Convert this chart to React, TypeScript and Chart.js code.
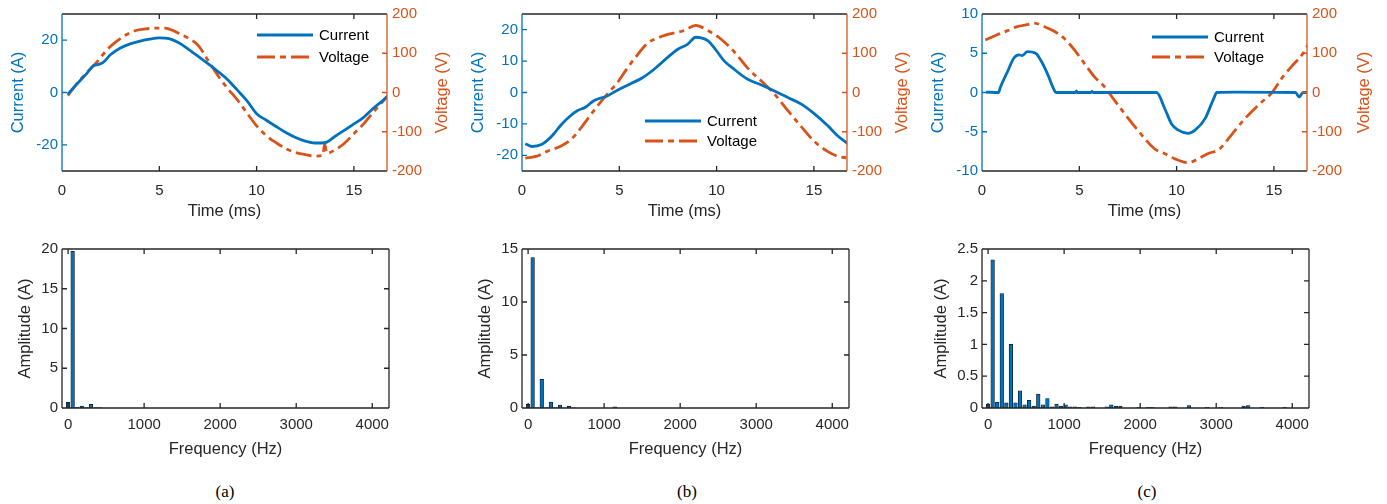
import React, { useEffect, useRef } from 'react';
import { Chart, registerables } from 'chart.js';

Chart.register(...registerables);

const BLUE = '#0072BD';
const ORANGE = '#D95319';
const AXIS = '#262626';
const FONT = "'Liberation Sans', Arial, Helvetica, sans-serif";

// ---------- Tick labels ----------
const TIME_TICKS = [0, 5, 10, 15];
const FREQ_TICKS = [0, 1000, 2000, 3000, 4000];
const VOLT_TICKS = [-200, -100, 0, 100, 200];
const CUR_TICKS_A = [-20, 0, 20];
const CUR_TICKS_B = [-20, -10, 0, 10, 20];
const CUR_TICKS_C = [-10, -5, 0, 5, 10];
const AMP_TICKS_A = [0, 5, 10, 15, 20];
const AMP_TICKS_B = [0, 5, 10, 15];
const AMP_TICKS_C = [0, 0.5, 1, 1.5, 2, 2.5];

// ---------- (a) waveforms ----------
const CUR_T_A = [0.3, 0.8, 1.3, 1.6, 1.8, 2.1, 2.5, 3.0, 3.5, 4.0, 4.5, 5.0, 5.5, 6.0, 6.5, 7.0, 7.5, 8.0, 8.5, 9.0, 9.5, 10.0, 10.5, 11.0, 11.5, 12.0, 12.5, 13.0, 13.5, 14.0, 14.5, 15.0, 15.5, 16.0, 16.5, 16.75];
const CUR_A = [-0.6, 3.5, 7.5, 10.2, 10.6, 11.4, 14.5, 17.0, 18.6, 19.6, 20.4, 20.9, 20.6, 19.0, 16.5, 13.8, 11.0, 8.1, 5.0, 1.0, -3.1, -8.1, -10.6, -13.0, -15.3, -17.2, -18.6, -19.3, -19.2, -16.9, -14.5, -12.0, -9.5, -6.0, -3.0, -1.2];
const VOLT_T_A = [0.3, 0.8, 1.3, 1.8, 2.3, 2.8, 3.3, 3.8, 4.3, 4.8, 5.3, 5.7, 6.1, 6.5, 7.0, 7.5, 8.0, 8.5, 9.0, 9.5, 10.0, 10.5, 11.0, 11.5, 12.0, 12.5, 13.0, 13.4, 13.5, 13.6, 14.0, 14.5, 15.0, 15.5, 16.0, 16.5, 16.75];
const VOLT_A = [-8, 25, 52, 78, 108, 130, 147, 158, 162, 164, 164, 158, 148, 138, 120, 82, 44, 11, -18, -52, -85, -110, -128, -143, -153, -158, -162, -160, -130, -155, -147, -130, -105, -80, -50, -22, -8];

// ---------- (b) waveforms ----------
const CUR_T_B = [0.17, 0.52, 1.03, 1.29, 1.63, 1.98, 2.49, 2.84, 3.26, 3.69, 4.38, 4.9, 5.58, 6.19, 6.79, 7.47, 7.99, 8.5, 8.93, 9.54, 9.88, 10.4, 10.9, 11.6, 12.3, 12.97, 13.66, 14.35, 15.03, 15.7, 16.2, 16.75];
const CUR_B = [-16.3, -17.2, -16.5, -15.3, -13.2, -10.5, -7.4, -5.8, -4.7, -2.6, -1.1, 0.7, 2.8, 4.7, 7.4, 11.1, 13.7, 15.3, 17.6, 16.5, 14.2, 10.0, 7.4, 4.2, 2.4, 0.5, -1.6, -3.7, -6.8, -10.5, -13.7, -16.3];
const VOLT_T_B = [0.17, 0.77, 1.29, 1.98, 2.49, 3.0, 3.69, 4.38, 4.9, 5.41, 5.93, 6.44, 7.13, 7.65, 8.33, 8.93, 9.54, 10.2, 10.9, 11.6, 12.3, 12.97, 13.66, 14.35, 15.03, 15.7, 16.2, 16.75];
const VOLT_B = [-167, -162, -150, -137, -121, -92, -46, -4, 25, 62, 96, 125, 142, 150, 158, 171, 158, 137, 104, 62, 29, -4, -46, -87, -125, -150, -162, -167];

// ---------- (c) waveforms ----------
const CUR_T_C = [0.2, 0.85, 0.95, 1.3, 1.64, 1.9, 2.07, 2.33, 2.76, 3.02, 3.36, 3.71, 3.8, 4.8, 4.85, 4.9, 5.6, 5.65, 5.7, 7.0, 8.97, 9.4, 9.74, 10.09, 10.6, 10.95, 11.47, 11.9, 12.07, 13.0, 16.1, 16.3, 16.5, 16.8];
const CUR_C = [0.05, 0.0, 0.7, 2.6, 4.4, 4.8, 4.7, 5.2, 5.0, 4.1, 2.4, 0.3, 0.0, 0.0, 0.2, 0.0, 0.0, 0.15, 0.0, 0.0, 0.0, -2.1, -4.0, -4.8, -5.2, -4.8, -3.3, -0.8, 0.0, 0.05, 0.0, -0.55, 0.0, 0.0];
const VOLT_T_C = [0.17, 0.78, 1.29, 1.81, 2.33, 2.67, 3.19, 3.71, 4.22, 4.74, 5.26, 5.78, 6.29, 6.81, 7.33, 8.02, 8.88, 9.4, 9.91, 10.6, 11.1, 11.6, 12.2, 12.8, 13.5, 14.2, 14.9, 15.4, 15.9, 16.5, 16.8];
const VOLT_C = [134, 147, 157, 168, 173, 177, 168, 156, 138, 109, 74, 40, 15, -20, -54, -97, -144, -156, -169, -179, -169, -156, -144, -109, -67, -32, 0, 36, 66, 100, 126];

// ---------- spectra ----------
const FREQ_A = [0, 60, 120, 180, 240, 300, 360, 420];
const AMP_A = [0.7, 19.7, 0.1, 0.25, 0.05, 0.45, 0.04, 0.04];
const FREQ_B = [0, 60, 120, 180, 240, 300, 360, 420, 480, 540, 600, 1140];
const AMP_B = [0.35, 14.2, 0.05, 2.7, 0.05, 0.55, 0.03, 0.28, 0.02, 0.15, 0.02, 0.12];
const FREQ_C = [0, 60, 120, 180, 240, 300, 360, 420, 480, 540, 600, 660, 720, 780, 840, 900, 960, 1020, 1080, 1140, 1200, 1320, 1380, 1560, 1620, 1680, 1740, 1980, 2100, 2160, 2400, 2460, 2640, 2880, 3060, 3360, 3420, 3600, 3900];
const AMP_C = [0.06, 2.33, 0.09, 1.8, 0.08, 1.0, 0.08, 0.27, 0.05, 0.12, 0.03, 0.22, 0.05, 0.15, 0.02, 0.06, 0.03, 0.05, 0.02, 0.02, 0.01, 0.02, 0.02, 0.02, 0.05, 0.03, 0.03, 0.01, 0.01, 0.01, 0.02, 0.02, 0.04, 0.01, 0.01, 0.03, 0.04, 0.01, 0.01];

const pts = (xs: number[], ys: number[]) => xs.map((x, i) => ({ x, y: ys[i] }));
const setTicks = (vals: number[]) => (s: any) => {
  s.ticks = vals.map((v) => ({ value: v }));
};

function framePlugin(leftColor: string, rightColor: string, rightScale: string | null) {
  return {
    id: 'frame',
    afterDatasetsDraw(chart: any) {
      const { ctx, chartArea: a, scales } = chart;
      const tl = 5;
      ctx.save();
      ctx.lineWidth = 1.3;
      ctx.lineCap = 'butt';
      ctx.strokeStyle = AXIS;
      ctx.beginPath();
      for (const t of scales.x.ticks) {
        const px = scales.x.getPixelForValue(t.value);
        if (px <= a.left + 1 || px >= a.right - 1) continue;
        ctx.moveTo(px, a.bottom);
        ctx.lineTo(px, a.bottom - tl);
        ctx.moveTo(px, a.top);
        ctx.lineTo(px, a.top + tl);
      }
      ctx.stroke();
      ctx.strokeStyle = leftColor;
      ctx.beginPath();
      for (const t of scales.y.ticks) {
        const py = scales.y.getPixelForValue(t.value);
        if (py <= a.top + 1 || py >= a.bottom - 1) continue;
        ctx.moveTo(a.left, py);
        ctx.lineTo(a.left + tl, py);
        if (!rightScale) {
          ctx.moveTo(a.right, py);
          ctx.lineTo(a.right - tl, py);
        }
      }
      ctx.stroke();
      if (rightScale) {
        ctx.strokeStyle = rightColor;
        ctx.beginPath();
        for (const t of scales[rightScale].ticks) {
          const py = scales[rightScale].getPixelForValue(t.value);
          if (py <= a.top + 1 || py >= a.bottom - 1) continue;
          ctx.moveTo(a.right, py);
          ctx.lineTo(a.right - tl, py);
        }
        ctx.stroke();
      }
      ctx.strokeStyle = AXIS;
      ctx.beginPath();
      ctx.moveTo(a.left, a.top);
      ctx.lineTo(a.right, a.top);
      ctx.moveTo(a.left, a.bottom);
      ctx.lineTo(a.right, a.bottom);
      ctx.stroke();
      ctx.strokeStyle = leftColor;
      ctx.beginPath();
      ctx.moveTo(a.left, a.top);
      ctx.lineTo(a.left, a.bottom);
      ctx.stroke();
      ctx.strokeStyle = rightColor;
      ctx.beginPath();
      ctx.moveTo(a.right, a.top);
      ctx.lineTo(a.right, a.bottom);
      ctx.stroke();
      ctx.restore();
    },
  };
}

// Right-hand axis title, reading bottom-to-top like the left one
function rightTitlePlugin(text: string, offset: number) {
  return {
    id: 'rightTitle',
    afterDraw(chart: any) {
      const { ctx, chartArea: a } = chart;
      ctx.save();
      ctx.translate(a.right + offset, (a.top + a.bottom) / 2);
      ctx.rotate(-Math.PI / 2);
      ctx.fillStyle = ORANGE;
      ctx.font = `16.5px ${FONT}`;
      ctx.textAlign = 'center';
      ctx.textBaseline = 'middle';
      ctx.fillText(text, 0, 0);
      ctx.restore();
    },
  };
}

function legendPlugin(x: number, y: number, gap: number) {
  return {
    id: 'miniLegend',
    afterDraw(chart: any) {
      const { ctx } = chart;
      const len = 56;
      const items = [
        { label: 'Current', color: BLUE, dash: [] as number[] },
        { label: 'Voltage', color: ORANGE, dash: [18, 5, 6, 5] },
      ];
      ctx.save();
      items.forEach((it, i) => {
        const yy = y + i * gap;
        ctx.strokeStyle = it.color;
        ctx.lineWidth = 2.8;
        ctx.setLineDash(it.dash);
        ctx.beginPath();
        ctx.moveTo(x, yy);
        ctx.lineTo(x + len, yy);
        ctx.stroke();
        ctx.setLineDash([]);
        ctx.fillStyle = '#000';
        ctx.font = `15px ${FONT}`;
        ctx.textBaseline = 'middle';
        ctx.textAlign = 'left';
        ctx.fillText(it.label, x + len + 6, yy + 1);
      });
      ctx.restore();
    },
  };
}

const tickFont = { family: FONT, size: 15 };
const titleFont = { family: FONT, size: 16.5 };

function topConfig(p: {
  curT: number[]; cur: number[]; voltT: number[]; volt: number[];
  curMin: number; curMax: number; curTicks: number[];
  rightW: number; rightTitleOffset: number; legend: [number, number, number];
}) {
  return {
    type: 'line',
    data: {
      datasets: [
        {
          data: pts(p.curT, p.cur), yAxisID: 'y', borderColor: BLUE, borderWidth: 2.8,
          pointRadius: 0, cubicInterpolationMode: 'monotone', fill: false,
        },
        {
          data: pts(p.voltT, p.volt), yAxisID: 'y2', borderColor: ORANGE, borderWidth: 2.8,
          borderDash: [16, 5, 5, 5], pointRadius: 0, cubicInterpolationMode: 'monotone', fill: false,
        },
      ],
    },
    options: {
      responsive: false, animation: false, events: [],
      layout: { padding: { top: 12, left: 0, right: 0, bottom: 0 } },
      plugins: { legend: { display: false }, tooltip: { enabled: false } },
      scales: {
        x: {
          type: 'linear', min: 0, max: 16.7, afterBuildTicks: setTicks(TIME_TICKS),
          grid: { display: false, drawTicks: false }, border: { display: false },
          ticks: { color: AXIS, font: tickFont, padding: 11, maxRotation: 0, autoSkip: false, callback: (v: any) => String(v) },
          title: { display: true, text: 'Time (ms)', color: AXIS, font: titleFont, padding: { top: 9, bottom: 9 } },
          afterFit: (s: any) => { s.height = 59; },
        },
        y: {
          type: 'linear', position: 'left', min: p.curMin, max: p.curMax, afterBuildTicks: setTicks(p.curTicks),
          grid: { display: false, drawTicks: false }, border: { display: false },
          ticks: { color: BLUE, font: tickFont, padding: 4, autoSkip: false, callback: (v: any) => String(v) },
          title: { display: true, text: 'Current (A)', color: BLUE, font: titleFont, padding: { top: 9, bottom: 9 } },
          afterFit: (s: any) => { s.width = 62; },
        },
        y2: {
          type: 'linear', position: 'right', min: -200, max: 200, afterBuildTicks: setTicks(VOLT_TICKS),
          grid: { display: false, drawTicks: false }, border: { display: false },
          ticks: { color: ORANGE, font: tickFont, padding: 5, autoSkip: false, callback: (v: any) => String(v) },
          title: { display: false },
          afterFit: (s: any) => { s.width = p.rightW; },
        },
      },
    },
    plugins: [
      framePlugin(BLUE, ORANGE, 'y2'),
      rightTitlePlugin('Voltage (V)', p.rightTitleOffset),
      legendPlugin(p.legend[0], p.legend[1], p.legend[2]),
    ],
  };
}

function bottomConfig(p: { freq: number[]; amp: number[]; max: number; ticks: number[]; rightPad: number; titlePad: number }) {
  return {
    type: 'bar',
    data: {
      datasets: [
        {
          data: pts(p.freq, p.amp), backgroundColor: BLUE, borderColor: '#111',
          borderWidth: 0.7, barThickness: 3.6, borderSkipped: false,
        },
      ],
    },
    options: {
      responsive: false, animation: false, events: [],
      layout: { padding: { top: 19, left: 0, right: p.rightPad, bottom: 0 } },
      plugins: { legend: { display: false }, tooltip: { enabled: false } },
      scales: {
        x: {
          type: 'linear', min: -80, max: 4220, offset: false, afterBuildTicks: setTicks(FREQ_TICKS),
          grid: { display: false, drawTicks: false, offset: false }, border: { display: false },
          ticks: { color: AXIS, font: tickFont, padding: 8, maxRotation: 0, autoSkip: false, callback: (v: any) => String(v) },
          title: { display: true, text: 'Frequency (Hz)', color: AXIS, font: titleFont, padding: { top: 11, bottom: 11 } },
          afterFit: (s: any) => { s.height = 62; },
        },
        y: {
          type: 'linear', position: 'left', min: 0, max: p.max, afterBuildTicks: setTicks(p.ticks),
          grid: { display: false, drawTicks: false }, border: { display: false },
          ticks: { color: AXIS, font: tickFont, padding: 4, autoSkip: false, callback: (v: any) => String(v) },
          title: { display: true, text: 'Amplitude (A)', color: AXIS, font: titleFont, padding: { top: p.titlePad, bottom: p.titlePad } },
          afterFit: (s: any) => { s.width = 62; },
        },
      },
    },
    plugins: [framePlugin(AXIS, AXIS, null)],
  };
}

function Panel({ left, top, width, height, config }: { left: number; top: number; width: number; height: number; config: any }) {
  const ref = useRef<HTMLCanvasElement | null>(null);
  useEffect(() => {
    if (!ref.current) return;
    const chart = new Chart(ref.current, config);
    return () => chart.destroy();
  }, []);
  return (
    <canvas
      ref={ref}
      width={width}
      height={height}
      style={{ position: 'absolute', left, top, width, height }}
    />
  );
}

const captionStyle = (cx: number): React.CSSProperties => ({
  position: 'absolute', left: cx - 30, top: 482, width: 60, textAlign: 'center',
  fontFamily: "'Liberation Serif', 'Times New Roman', serif", fontSize: 17, color: '#000', lineHeight: '20px',
});

export default function App() {
  return (
    <div style={{ position: 'absolute', left: 0, top: 0, width: 1387, height: 504, background: '#fff' }}>
      <Panel left={0} top={0} width={460} height={230} config={topConfig({
        curT: CUR_T_A, cur: CUR_A, voltT: VOLT_T_A, volt: VOLT_A, curMin: -30, curMax: 30, curTicks: CUR_TICKS_A,
        rightW: 73, rightTitleOffset: 55, legend: [257, 35, 22],
      })} />
      <Panel left={460} top={0} width={460} height={230} config={topConfig({
        curT: CUR_T_B, cur: CUR_B, voltT: VOLT_T_B, volt: VOLT_B, curMin: -25, curMax: 25, curTicks: CUR_TICKS_B,
        rightW: 73, rightTitleOffset: 55, legend: [185, 121, 20],
      })} />
      <Panel left={920} top={0} width={467} height={230} config={topConfig({
        curT: CUR_T_C, cur: CUR_C, voltT: VOLT_T_C, volt: VOLT_C, curMin: -10, curMax: 10, curTicks: CUR_TICKS_C,
        rightW: 80, rightTitleOffset: 57, legend: [232, 37, 20],
      })} />
      <Panel left={0} top={230} width={460} height={240} config={bottomConfig({ freq: FREQ_A, amp: AMP_A, max: 20, ticks: AMP_TICKS_A, rightPad: 71, titlePad: 16 })} />
      <Panel left={460} top={230} width={460} height={240} config={bottomConfig({ freq: FREQ_B, amp: AMP_B, max: 15, ticks: AMP_TICKS_B, rightPad: 71, titlePad: 16 })} />
      <Panel left={920} top={230} width={467} height={240} config={bottomConfig({ freq: FREQ_C, amp: AMP_C, max: 2.5, ticks: AMP_TICKS_C, rightPad: 78, titlePad: 12 })} />
      <div style={captionStyle(225)}>(a)</div>
      <div style={captionStyle(687)}>(b)</div>
      <div style={captionStyle(1147)}>(c)</div>
    </div>
  );
}
